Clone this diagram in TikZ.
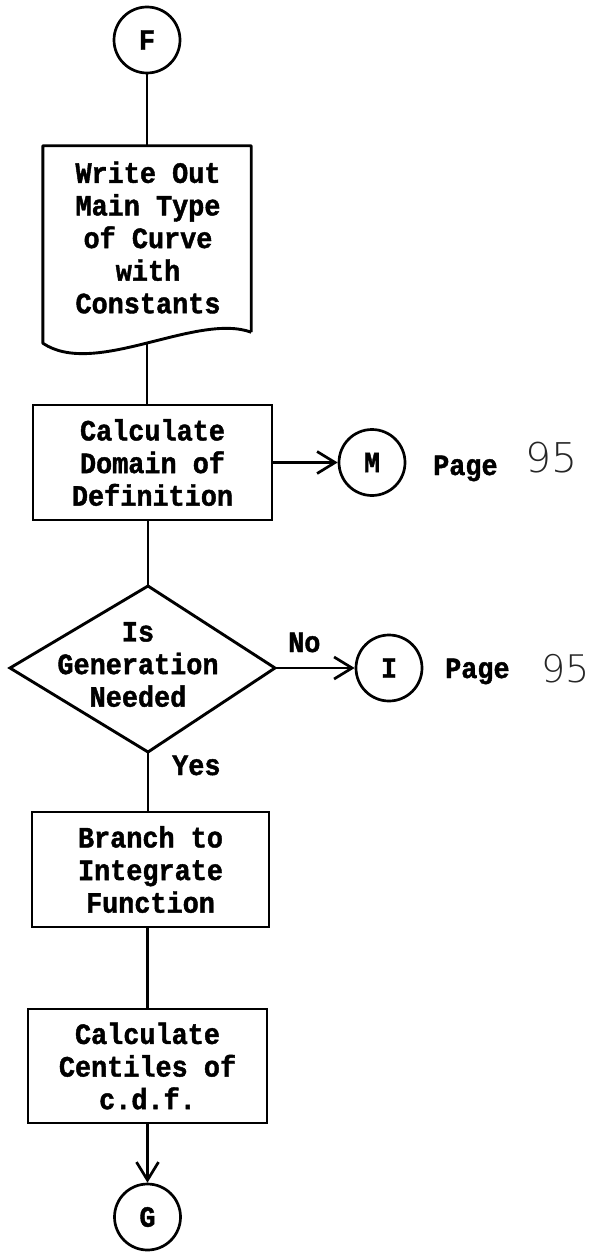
\documentclass[tikz,border=0pt]{standalone}
\usepackage{fontspec}
\newfontfamily\typefont{Liberation Mono Bold}[FakeBold=1.4, FakeStretch=0.91]
\newfontfamily\handfont{DejaVu Sans ExtraLight}
\usetikzlibrary{arrows.meta}

\begin{document}
\begin{tikzpicture}[x=1pt,y=-1pt,
  every node/.style={font=\typefont\fontsize{29.5}{32.6}\selectfont, inner sep=0pt},
  flow/.style={line width=2.7pt},
  procbox/.style={draw, line width=2.9pt, align=center},
  connector/.style={circle, draw, line width=2.7pt, minimum size=66pt},
  tag/.style={anchor=base west},
  hand/.style={font=\handfont\fontsize{41}{41}\selectfont, anchor=base west, text=black!85},
  arr/.style={-{Straight Barb[length=18pt,width=22pt]}}
]
\useasboundingbox (0,0) rectangle (590,1252);

% start connector
\node[connector] (F) at (147,40) {F};

% document symbol: frame node plus wavy bottom edge
\node[minimum width=208pt, minimum height=197pt] (write) at (147,244.5) {};
\draw[line width=2.9pt, line join=round]
  ([yshift=11pt]write.south east) -- (write.north east) -- (write.north west)
  -- (write.south west) .. controls +(52,35) and +(-55,-20) .. ([yshift=11pt]write.south east);
\node[align=center] (writetext) at (148,237.5) {Write Out\\Main Type\\of Curve\\with\\Constants};

% domain calculation
\node[procbox, minimum width=239pt, minimum height=115pt] (calc1) at (152.5,462.5)
  {Calculate\\Domain of\\Definition};
\node[connector] (M) at (372,462.5) {M};
\node[tag] (pageM) at (433,475) {Page};
\node[hand] (numM) at (525,472) {95};

% decision
\coordinate (decN) at (148,586);
\coordinate (decS) at (148,752);
\coordinate (decW) at (10,668);
\coordinate (decE) at (275,668);
\draw[line width=2.9pt, line join=miter] (decN) -- (decE) -- (decS) -- (decW) -- cycle;
\node[align=center] (dectext) at (138,664.5) {Is\\Generation\\Needed};
\node[connector] (I) at (389,668) {I};
\node[tag] (no) at (288,652) {No};
\node[tag] (pageI) at (445,678) {Page};
\node[hand, font=\handfont\fontsize{38}{38}\selectfont] (numI) at (541,682) {95};
\node[tag] (yes) at (172,775) {Yes};

% integration and centiles
\node[procbox, minimum width=237pt, minimum height=115pt] (branch) at (150.5,869.5)
  {Branch to\\Integrate\\Function};
\node[procbox, minimum width=239pt, minimum height=114pt] (calc2) at (147.5,1066)
  {Calculate\\Centiles of\\c.d.f.};
\node[connector] (G) at (147.5,1217) {G};

% connectors
\draw[flow] (F) -- (write.north);
\draw[flow] (write.south) -- (calc1.north -| write.south);
\draw[flow, arr] (calc1.east) -- (M.west);
\draw[flow] (calc1.south -| decN) -- (decN);
\draw[flow, arr] (decE) -- (I.west);
\draw[flow] (decS) -- (branch.north -| decS);
\draw[flow] (branch.south -| calc2.north) -- (calc2.north);
\draw[flow, arr] (calc2.south) -- (G.north);
\end{tikzpicture}
\end{document}
